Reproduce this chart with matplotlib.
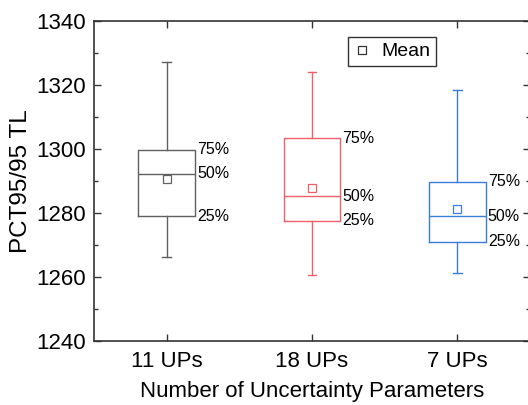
import numpy as np
import matplotlib.pyplot as plt
from matplotlib.ticker import MultipleLocator

# data
groups = ['11 UPs', '18 UPs', '7 UPs']
q25 = [1279.0, 1277.6, 1271.0]
q50 = [1292.2, 1285.3, 1279.0]
q75 = [1299.7, 1303.3, 1289.7]
wlo = [1266.2, 1260.6, 1261.2]
whi = [1327.2, 1324.0, 1318.5]
means = [1290.7, 1287.9, 1281.3]
colors = ['#606060', '#f0606a', '#3a7edc']

plt.rcParams['font.family'] = ['Liberation Sans', 'DejaVu Sans']
fig = plt.figure(figsize=(5.28, 4.05), dpi=100)
# right spine sits just past the image edge, as in the reference
ax = fig.add_axes([94/528, 1 - 341/405, (530 - 94)/528, (341 - 21)/405])

stats = []
for i in range(3):
    stats.append({'med': q50[i], 'q1': q25[i], 'q3': q75[i],
                  'whislo': wlo[i], 'whishi': whi[i], 'mean': means[i],
                  'fliers': [], 'label': groups[i]})

pos = np.arange(1, 4)
for i in range(3):
    c = colors[i]
    ax.bxp([stats[i]], positions=[pos[i]], widths=0.39, showmeans=True,
           showfliers=False,
           boxprops=dict(color=c, lw=1.0),
           medianprops=dict(color=c, lw=1.0),
           whiskerprops=dict(color=c, lw=1.0),
           capprops=dict(color=c, lw=1.0),
           capwidths=0.06,
           meanprops=dict(marker='s', markerfacecolor='white',
                          markeredgecolor=c, markersize=6, markeredgewidth=0.9))
    xr = pos[i] + 0.39 / 2 + 0.015
    for v, t in zip([q75[i], q50[i], q25[i]], ['75%', '50%', '25%']):
        ax.text(xr, v, t, fontsize=11.5, va='center', ha='left')

ax.set_xlim(0.5, 3.5)
ax.set_ylim(1240, 1340)
ax.set_xticks(pos)
ax.set_xticklabels(groups)
ax.yaxis.set_major_locator(MultipleLocator(20))
ax.yaxis.set_minor_locator(MultipleLocator(10))
ax.tick_params(axis='both', which='both', direction='in', top=True,
               right=True, labelsize=16, width=1.0, color='#333333')
ax.tick_params(which='major', length=5)
ax.tick_params(which='minor', length=3)
ax.tick_params(axis='x', which='minor', bottom=False, top=False)
ax.tick_params(axis='x', pad=7)
ax.tick_params(axis='y', pad=6)
for s in ax.spines.values():
    s.set_linewidth(1.2)
    s.set_color('#333333')

ax.set_ylabel('PCT95/95 TL', fontsize=17.5, labelpad=3)
ax.set_xlabel('Number of Uncertainty Parameters', fontsize=16, labelpad=7)

# legend for the mean marker
h, = ax.plot([], [], 's', markerfacecolor='white', markeredgecolor='#333333',
             markersize=6, markeredgewidth=0.9)
leg = ax.legend([h], ['Mean'], loc='upper left',
                bbox_to_anchor=((348 - 94)/436, 1 - 16/320),
                fontsize=14, frameon=True, fancybox=False, edgecolor='black',
                handlelength=0.8, handletextpad=0.6, borderpad=0.3,
                borderaxespad=0)
leg.get_frame().set_linewidth(1.0)

fig.savefig('out.png', dpi=100)
